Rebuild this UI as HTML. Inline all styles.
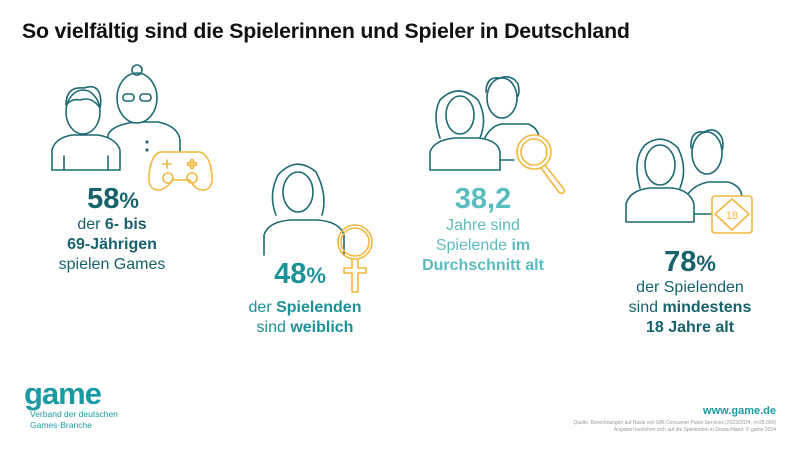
<!DOCTYPE html>
<html><head><meta charset="utf-8"><style>
body{margin:0;width:800px;height:450px;background:#fff;position:relative;overflow:hidden;font-family:"Liberation Sans",sans-serif}
.t{position:absolute;text-align:center;white-space:nowrap;transform:translateX(-50%)}
.big{font-weight:bold;font-size:29px;line-height:30px}
.big span{font-size:22px}
.ln{font-size:16px;line-height:20px}
b{font-weight:bold}
</style></head><body>
<div style="position:absolute;left:22px;top:19px;font-size:21.3px;font-weight:bold;color:#111;letter-spacing:-0.2px">So vielfältig sind die Spielerinnen und Spieler in Deutschland</div>

<svg width="800" height="450" style="position:absolute;left:0;top:0" fill="none" stroke-width="1.6" stroke-linecap="round" stroke-linejoin="round">
<g stroke="#1d6a73">
<path d="M108 160 L108 135 Q112 125 135 122 L158 122 Q178 126 180 140 L180 160"/>
<ellipse cx="137" cy="98" rx="20" ry="25" fill="#fff"/>
<circle cx="137" cy="70" r="5"/>
<rect x="123" y="94" width="11" height="7" rx="3"/><rect x="140" y="94" width="11" height="7" rx="3"/>
<circle cx="147" cy="142" r=".8"/><circle cx="147" cy="150" r=".8"/>
<path d="M52 170 L52 150 Q55 138 72 135 L98 135 Q116 138 120 150 L120 170 Z" fill="#fff"/>
<path d="M64 170 L64 156 M108 170 L108 156"/>
<ellipse cx="83" cy="112" rx="17" ry="22" fill="#fff"/>
<path d="M66 105 Q66 86 84 88 Q95 84 99 92 Q102 100 100 108 Q92 96 80 100 Q72 98 66 105"/>
<path d="M264 255 L264 235 Q268 222 290 220 L318 220 Q340 222 344 235 L344 255"/>
<path d="M276 215 Q268 195 278 175 Q296 155 316 172 Q328 195 322 215"/>
<ellipse cx="298" cy="192" rx="15" ry="20"/>
<path d="M478 158 Q485 126 502 124 L528 124 Q540 128 540 145"/>
<ellipse cx="502" cy="98" rx="15" ry="20" fill="#fff"/>
<path d="M486 92 Q486 76 500 78 Q512 74 518 84 Q520 92 518 96"/>
<path d="M430 170 L430 152 Q434 140 455 138 L478 138 Q498 140 500 152 L500 170 Z" fill="#fff"/>
<path d="M440 138 Q432 115 440 100 Q458 82 478 100 Q488 118 480 138"/>
<ellipse cx="460" cy="115" rx="14" ry="19" fill="#fff"/>
<path d="M500 160 L514 160"/>
<path d="M685 200 Q690 186 708 182 L728 182 Q742 186 742 198 L742 210"/>
<ellipse cx="707" cy="153" rx="15" ry="21" fill="#fff"/>
<path d="M691 148 Q690 130 704 132 Q716 126 722 138 Q724 146 722 150"/>
<path d="M626 222 L626 204 Q630 190 650 188 L672 188 Q690 190 694 204 L694 222 Z" fill="#fff"/>
<path d="M640 188 Q632 160 645 145 Q662 132 678 148 Q688 168 680 188"/>
<ellipse cx="660" cy="165" rx="15" ry="20" fill="#fff"/>
<path d="M694 214 L712 214"/>
</g>
<g stroke="#f2b73f">
<path d="M160 152 L200 152 Q210 155 212 175 Q213 190 203 190 Q195 190 190 180 L172 180 Q166 190 158 190 Q148 190 149 175 Q151 155 160 152 Z" fill="#fff"/>
<circle cx="168" cy="178" r="5"/><circle cx="192" cy="178" r="5"/>
<path d="M167 160 L167 168 M163 164 L171 164"/>
<circle cx="192" cy="161" r="1.5"/><circle cx="192" cy="167" r="1.5"/><circle cx="189" cy="164" r="1.5"/><circle cx="195" cy="164" r="1.5"/>
<circle cx="355" cy="242" r="17"/><circle cx="355" cy="242" r="14"/>
<path d="M352 259 L352 268 L344 268 L344 273 L352 273 L352 292 L358 292 L358 273 L366 273 L366 268 L358 268 L358 259"/>
<circle cx="534" cy="152" r="17" fill="#fff"/><circle cx="534" cy="152" r="13"/>
<path d="M545 165 L563 188 Q566 191 563 193 Q560 194 558 191 L541 168"/>
<rect x="712" y="196" width="40" height="37" rx="3" fill="#fff"/>
<path d="M732 199 L749 214 L732 230 L715 214 Z"/>
<text x="732" y="219" font-family="Liberation Sans" font-size="11" fill="#f2b73f" stroke="none" text-anchor="middle">18</text>
</g>
</svg>

<div class="t big" style="left:113px;top:184px;color:#17626c">58<span>%</span></div>
<div class="t ln" style="left:112px;top:215px;color:#17626c">der <b>6- bis</b><br><b>69-Jährigen</b><br>spielen Games</div>

<div class="t big" style="left:300px;top:259px;color:#1b9299">48<span>%</span></div>
<div class="t ln" style="left:305px;top:298px;color:#1b9299">der <b>Spielenden</b><br>sind <b>weiblich</b></div>

<div class="t big" style="left:483px;top:184px;color:#5bbcbf">38,2</div>
<div class="t ln" style="left:483px;top:216px;color:#5bbcbf">Jahre sind<br>Spielende <b>im</b><br><b>Durchschnitt alt</b></div>

<div class="t big" style="left:690px;top:247px;color:#17626c">78<span>%</span></div>
<div class="t ln" style="left:690px;top:278px;color:#17626c">der Spielenden<br>sind <b>mindestens</b><br><b>18 Jahre alt</b></div>

<div style="position:absolute;left:24px;top:378px;font-size:31px;font-weight:bold;color:#1a9aa2;letter-spacing:-1px;line-height:32px">game</div>
<div style="position:absolute;left:30px;top:409px;font-size:8.5px;line-height:11px;color:#1a9aa2">Verband der deutschen<br>Games-Branche</div>
<div style="position:absolute;right:24px;top:405px;font-size:11px;font-weight:bold;color:#1a9aa2">www.game.de</div>
<div style="position:absolute;right:24px;top:420px;font-size:5px;line-height:7px;color:#999;text-align:right">Quelle: Berechnungen auf Basis von GfK Consumer Panel Services (2023/2024, n=25.000)<br>Angaben beziehen sich auf die Spielenden in Deutschland. © game 2024</div>
</body></html>
